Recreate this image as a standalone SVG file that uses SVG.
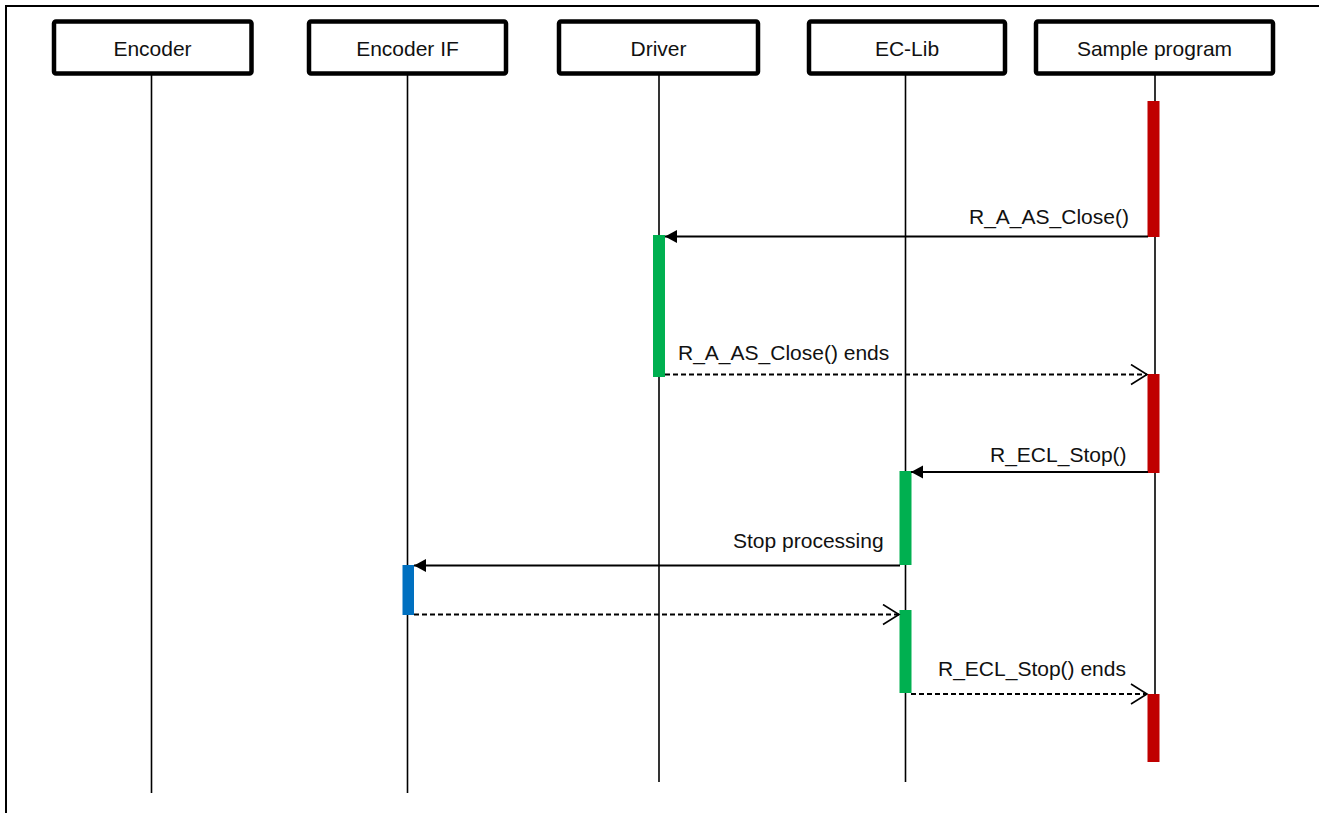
<svg xmlns="http://www.w3.org/2000/svg" width="1319" height="813" viewBox="0 0 1319 813">
  <style>
    .frame { stroke: #000; stroke-width: 2; fill: none; }
    .head { fill: #fff; stroke: #000; stroke-width: 4.5; }
    .label { font-family: "Liberation Sans", Arial, sans-serif; font-size: 21px; fill: #111; }
    .title { text-anchor: middle; }
    .life { stroke: #000; stroke-width: 1.6; }
    .red { fill: #C00000; }
    .green { fill: #00B050; }
    .blue { fill: #0070C0; }
    .call { stroke: #000; stroke-width: 2; fill: none; }
    .ret { stroke: #000; stroke-width: 1.8; fill: none; stroke-dasharray: 5 3; }
  </style>
  <defs>
    <marker id="filled" markerUnits="userSpaceOnUse" markerWidth="14" markerHeight="14" refX="12" refY="6.5" orient="auto">
      <path d="M0,0 L12,6.5 L0,13 z" fill="#000"/>
    </marker>
    <marker id="open" markerUnits="userSpaceOnUse" markerWidth="20" markerHeight="24" refX="17" refY="11" orient="auto">
      <path d="M1,1 L17,11 L1,21" fill="none" stroke="#000" stroke-width="1.6"/>
    </marker>
  </defs>

  <rect width="1319" height="813" fill="#fff"/>
  <!-- outer frame (top and left edges) -->
  <path class="frame" d="M6,813 V6 H1319"/>

  <g id="encoder">
    <line class="life" x1="151.5" y1="75" x2="151.5" y2="793"/>
    <rect class="head" x="54" y="21.5" width="197.5" height="52" rx="2"/>
    <text class="label title" x="152.5" y="56">Encoder</text>
  </g>

  <g id="encoder-if">
    <line class="life" x1="407.5" y1="75" x2="407.5" y2="793"/>
    <rect class="head" x="309" y="21.5" width="197" height="52" rx="2"/>
    <text class="label title" x="407.5" y="56">Encoder IF</text>
    <rect class="blue" x="402.5" y="565" width="11.5" height="50"/>
  </g>

  <g id="driver">
    <line class="life" x1="659" y1="75" x2="659" y2="782"/>
    <rect class="head" x="559" y="21.5" width="199" height="52" rx="2"/>
    <text class="label title" x="658.5" y="56">Driver</text>
    <rect class="green" x="653" y="235" width="12" height="142"/>
  </g>

  <g id="ec-lib">
    <line class="life" x1="905.5" y1="75" x2="905.5" y2="782"/>
    <rect class="head" x="809" y="21.5" width="196" height="52" rx="2"/>
    <text class="label title" x="907" y="56">EC-Lib</text>
    <rect class="green" x="899.5" y="471" width="12" height="94"/>
    <rect class="green" x="899.5" y="610" width="12" height="83"/>
  </g>

  <g id="sample-program">
    <line class="life" x1="1155" y1="75" x2="1155" y2="762"/>
    <rect class="head" x="1036" y="21.5" width="237" height="52" rx="2"/>
    <text class="label title" x="1154.5" y="56">Sample program</text>
    <rect class="red" x="1147.5" y="101" width="12" height="136"/>
    <rect class="red" x="1147.5" y="374" width="12" height="99"/>
    <rect class="red" x="1147.5" y="694" width="12" height="68"/>
  </g>

  <g id="connectors">
    <line class="call" x1="1148" y1="236.5" x2="665" y2="236.5" marker-end="url(#filled)"/>
    <text class="label" x="969" y="224">R_A_AS_Close()</text>

    <line class="ret" x1="665" y1="374.5" x2="1147" y2="374.5" marker-end="url(#open)"/>
    <text class="label" x="678" y="360">R_A_AS_Close() ends</text>

    <line class="call" x1="1148" y1="472" x2="911" y2="472" marker-end="url(#filled)"/>
    <text class="label" x="990" y="462">R_ECL_Stop()</text>

    <line class="call" x1="900" y1="565.5" x2="414" y2="565.5" marker-end="url(#filled)"/>
    <text class="label" x="733" y="548">Stop processing</text>

    <line class="ret" x1="414" y1="614.5" x2="899" y2="614.5" marker-end="url(#open)"/>

    <line class="ret" x1="911" y1="694" x2="1147" y2="694" marker-end="url(#open)"/>
    <text class="label" x="938" y="676">R_ECL_Stop() ends</text>
  </g>
</svg>
